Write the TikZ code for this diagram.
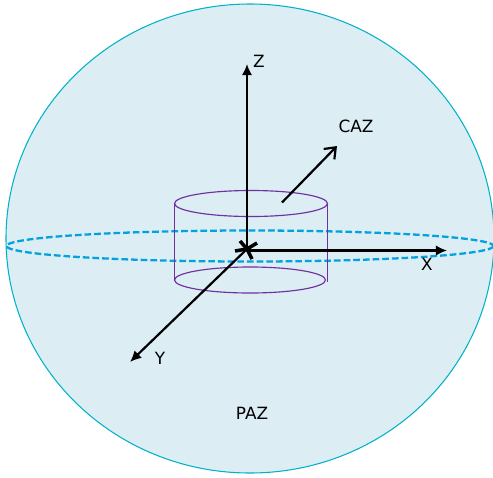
\documentclass[tikz,border=0pt]{standalone}
\usepackage{fontspec}
\setmainfont{DejaVu Sans}
\usetikzlibrary{positioning,arrows.meta}
\definecolor{azsphere}{RGB}{220,237,244}
\definecolor{azrim}{RGB}{0,178,200}
\definecolor{azdash}{RGB}{0,163,224}
\definecolor{azcyl}{RGB}{112,48,160}
\tikzset{
  azlbl/.style={font=\fontsize{9.6pt}{11pt}\selectfont, text=black, inner sep=0pt},
  azrimline/.style={draw=azrim, line width=0.6pt},
  azequator/.style={draw=azdash, line width=1.3pt, dash pattern=on 3.8pt off 1.7pt},
  azcylline/.style={draw=azcyl, line width=0.65pt},
  azaxis/.style={-{Latex[length=6.4pt,width=6pt]}, line width=1.25pt, draw=black},
  azbarb/.style={-{Straight Barb[length=5.5pt,width=8.5pt]}, line width=1.25pt, draw=black},
  azcross/.style={line width=2pt, draw=black},
}
\begin{document}
\begin{tikzpicture}[x=0.02cm,y=-0.02cm]
    \useasboundingbox (0,0) rectangle (493,477);
    % sphere and equator
    \fill[azsphere] (250,238.5) ellipse [x radius=244, y radius=234.5];
    \draw[azrimline] (250,238.5) ellipse [x radius=244, y radius=234.5];
    \draw[azequator] (250,246) ellipse [x radius=243.5, y radius=15.5];

    % cylinder
    \draw[azcylline] (251,203.5) ellipse [x radius=76.5, y radius=13];
    \draw[azcylline] (250,280) ellipse [x radius=75.5, y radius=13];
    \draw[azcylline] (174.5,203.5) -- (174.5,281);
    \draw[azcylline] (327.5,203.5) -- (327.5,282);

    \coordinate (origin) at (247,249);
    \coordinate (zend) at (247,64);
    \coordinate (xend) at (447,250.5);
    \coordinate (yend) at (130,362);
    \coordinate (cazstart) at (282,202.5);
    \coordinate (cazend) at (337,146);
    \coordinate (crossa) at (240,241);
    \coordinate (crossb) at (257,243);
    \coordinate (crossc) at (252,259);
    \coordinate (crossd) at (235,251);

    \draw[azaxis] (origin) -- (zend);
    \draw[azaxis] (origin |- xend) -- (xend);
    \draw[azaxis] (origin) -- (yend);
    \draw[azbarb] (cazstart) -- (cazend);
    \draw[azcross] (crossa) -- (origin) -- (crossb);
    \draw[azcross] (crossc) -- (origin) -- (crossd);

    \node[azlbl] (zlabel) at (259,61) {Z};
    \node[azlbl] (xlabel) at (427,264.5) {X};
    \node[azlbl] (ylabel) at (160,358) {Y};
    \node[azlbl] (caz) at (356,126) {CAZ};
    \node[azlbl] (paz) at (252,413) {PAZ};
  \end{tikzpicture}
\end{document}
